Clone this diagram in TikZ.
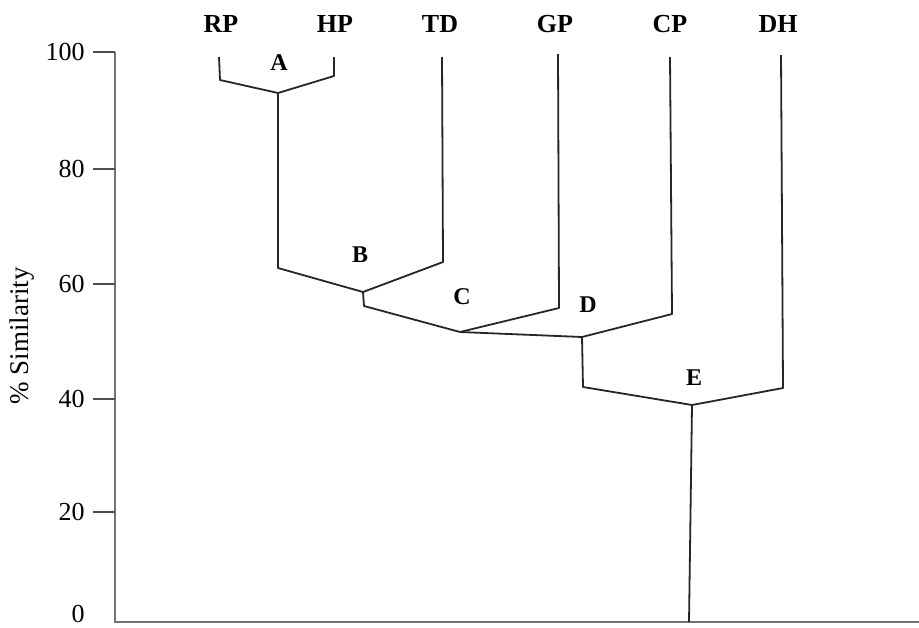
\documentclass[tikz,border=0pt]{standalone}
\usepackage{fontspec}
\setmainfont{Liberation Serif}
\begin{document}
\begin{tikzpicture}[x=0.5pt,y=-0.5pt,
  axisline/.style={draw=black!55, line width=1.2pt},
  tickline/.style={draw=black!70, line width=0.9pt},
  branch/.style={draw=black!85, line width=0.9pt, line join=round},
  taxon/.style={font=\fontsize{13}{15}\selectfont\bfseries, inner sep=0pt},
  clade/.style={font=\fontsize{12}{14}\selectfont\bfseries, inner sep=0pt},
  ticklab/.style={font=\fontsize{13}{15}\selectfont, inner sep=0pt, anchor=east}]
\useasboundingbox (0,0) rectangle (919,627);

% axes
\coordinate (ax0) at (115,52);
\coordinate (axc) at (115,622);
\coordinate (axr) at (919,622);
\draw[axisline] (ax0) -- (axc) -- (axr);
\foreach \v/\yy in {100/52,80/169,60/284,40/399,20/512}{
  \coordinate (t\v) at (115,\yy);
  \coordinate (tl\v) at (93,\yy);
  \draw[tickline] (tl\v) -- (t\v);
  \node[ticklab] (lab\v) at (85,\yy) {\v};
}
\node[ticklab] (lab0) at (85,614) {0};
\node[font=\fontsize{13.5}{15}\selectfont, rotate=90, inner sep=0pt] (ylab) at (22,336) {\% Similarity};

% taxa labels
\node[taxon] (RP) at (221,24) {RP};
\node[taxon] (HP) at (335,24) {HP};
\node[taxon] (TD) at (440,24) {TD};
\node[taxon] (GP) at (555,24) {GP};
\node[taxon] (CP) at (670,24) {CP};
\node[taxon] (DH) at (778,24) {DH};

% leaf tops and bends
\coordinate (rpT) at (219,57);  \coordinate (rpB) at (220,80);
\coordinate (hpT) at (334,57);  \coordinate (hpB) at (334,76);
\coordinate (tdT) at (442,57);  \coordinate (tdB) at (443,262);
\coordinate (gpT) at (558,54);  \coordinate (gpB) at (559,308);
\coordinate (cpT) at (670,57);  \coordinate (cpB) at (672,314);
\coordinate (dhT) at (781,55);  \coordinate (dhB) at (783,388);

% junctions
\coordinate (jA) at (278,93);   \coordinate (aB) at (278,268);
\coordinate (jB) at (363,292);  \coordinate (bB) at (364,306);
\coordinate (jC) at (460,332);
\coordinate (jD) at (582,337);  \coordinate (dB) at (583,387);
\coordinate (jE) at (692,405);  \coordinate (eB) at (689,622);

\draw[branch] (rpT) -- (rpB) -- (jA) -- (hpB) -- (hpT);
\draw[branch] (jA) -- (aB) -- (jB) -- (tdB) -- (tdT);
\draw[branch] (jB) -- (bB) -- (jC) -- (gpB) -- (gpT);
\draw[branch] (jC) -- (jD) -- (cpB) -- (cpT);
\draw[branch] (jD) -- (dB) -- (jE) -- (dhB) -- (dhT);
\draw[branch] (jE) -- (eB);

% clade labels
\node[clade] (A) at (279,63) {A};
\node[clade] (B) at (360,255) {B};
\node[clade] (C) at (462,297) {C};
\node[clade] (D) at (588,305) {D};
\node[clade] (E) at (694,378) {E};
\end{tikzpicture}
\end{document}
